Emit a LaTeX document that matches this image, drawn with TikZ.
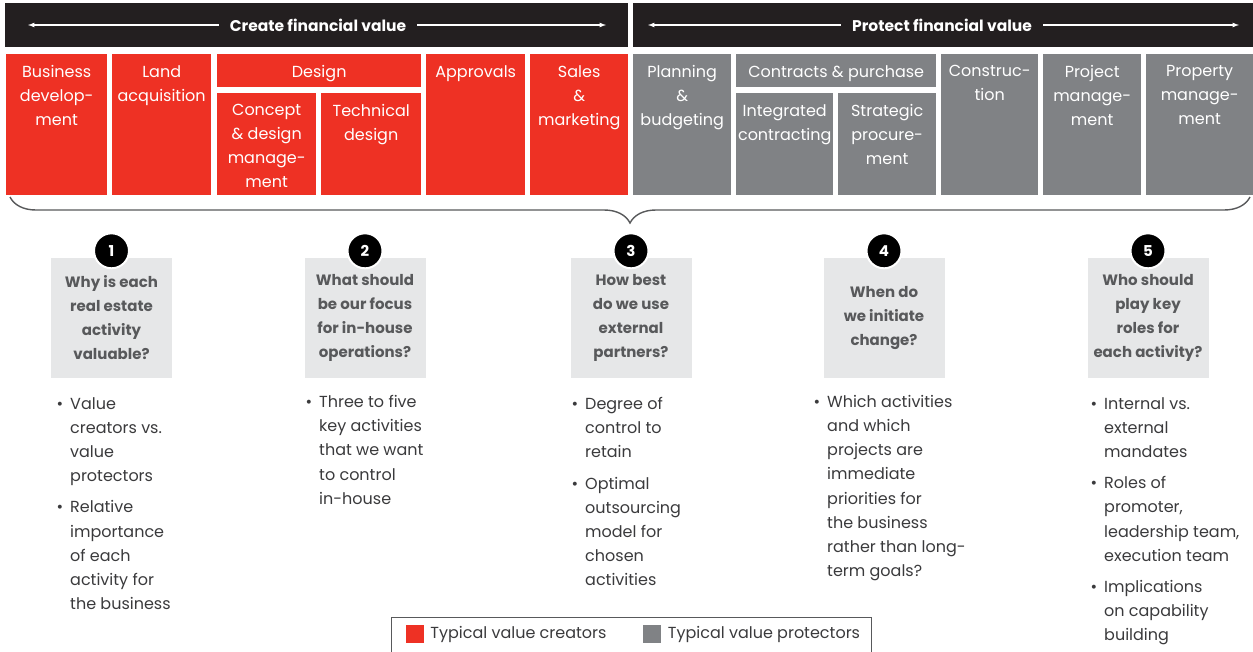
\documentclass[tikz,border=0pt]{standalone}
\usepackage{fontspec}
\setmainfont{Poppins}
\usetikzlibrary{decorations.pathreplacing}
\definecolor{creatred}{HTML}{EE3124}
\definecolor{protgray}{HTML}{808285}
\definecolor{barblack}{HTML}{231F20}
\definecolor{qboxgray}{HTML}{E6E7E8}
\definecolor{qtext}{HTML}{58595B}
\definecolor{btext}{HTML}{3A3A3C}
\newcommand{\qbul}{\llap{\textbullet\hspace{7pt}}}

\begin{document}
\begin{tikzpicture}[x=1pt, y=-1pt,
  bar/.style={fill=barblack, inner sep=0, anchor=north west},
  bartitle/.style={text=white, font=\bfseries\fontsize{15.5}{20}\selectfont, inner ysep=0, inner xsep=11pt},
  barrow/.style={white, line width=1.2pt, -latex},
  act/.style={inner sep=0, anchor=north west},
  acttext/.style={text=white, align=center, anchor=north, inner sep=0, font=\fontsize{16}{24}\selectfont},
  qbox/.style={fill=qboxgray, text=qtext, align=center, minimum width=121, minimum height=120, inner sep=0, font=\bfseries\fontsize{15}{24}\selectfont},
  num/.style={circle, fill=black, draw=white, line width=2pt, minimum size=35, inner sep=0, text=white, font=\bfseries\fontsize{15}{15}\selectfont},
  bullets/.style={text=btext, align=left, anchor=north west, inner sep=0, font=\fontsize{16}{24.2}\selectfont},
  lsq/.style={minimum size=18, inner sep=0},
  ltext/.style={text=btext, anchor=west, inner sep=0, font=\fontsize{16}{20}\selectfont}]
\useasboundingbox (0,0) rectangle (1253,651);

% top bars
\node[bar, minimum width=623, minimum height=44] (createbar) at (5,3) {};
\node[bar, minimum width=620, minimum height=44] (protectbar) at (633,3) {};
\node[bartitle] (create) at (318,25) {Create financial value};
\node[bartitle] (protect) at (942,25) {Protect financial value};
\coordinate (createL) at (28,25);
\coordinate (createR) at (606,25);
\coordinate (protectL) at (648,25);
\coordinate (protectR) at (1239,25);
\draw[barrow] (create.west) -- (createL);
\draw[barrow] (create.east) -- (createR);
\draw[barrow] (protect.west) -- (protectL);
\draw[barrow] (protect.east) -- (protectR);

% value creators
\node[act, fill=creatred, minimum width=101, minimum height=141] (bizdev) at (6,54) {};
\node[acttext] (bizdevtxt) at ([yshift=-11pt]bizdev.north) {Business\\develop-\\ment};
\node[act, fill=creatred, minimum width=99, minimum height=141] (landacq) at (112,54) {};
\node[acttext] (landacqtxt) at ([yshift=-11pt]landacq.north) {Land\\acquisition};
\node[act, fill=creatred, minimum width=204, minimum height=33] (design) at (217,54) {};
\node[acttext] (designtxt) at ([yshift=-11pt]design.north) {Design};
\node[act, fill=creatred, minimum width=99, minimum height=102] (concept) at (217,93) {};
\node[acttext] (concepttxt) at ([yshift=-11pt]concept.north) {Concept\\\& design\\manage-\\ment};
\node[act, fill=creatred, minimum width=100, minimum height=102] (techdes) at (321,93) {};
\node[acttext] (techdestxt) at ([yshift=-11pt]techdes.north) {Technical\\design};
\node[act, fill=creatred, minimum width=99, minimum height=141] (approv) at (426,54) {};
\node[acttext] (approvtxt) at ([yshift=-11pt]approv.north) {Approvals};
\node[act, fill=creatred, minimum width=98, minimum height=141] (sales) at (530,54) {};
\node[acttext] (salestxt) at ([yshift=-11pt]sales.north) {Sales\\\&\\marketing};

% value protectors
\node[act, fill=protgray, minimum width=98, minimum height=141] (planning) at (633,54) {};
\node[acttext] (planningtxt) at ([yshift=-11pt]planning.north) {Planning\\\&\\budgeting};
\node[act, fill=protgray, minimum width=200, minimum height=33] (contracts) at (736,54) {};
\node[acttext] (contractstxt) at ([yshift=-11pt]contracts.north) {Contracts \& purchase};
\node[act, fill=protgray, minimum width=97, minimum height=102] (integr) at (736,93) {};
\node[acttext] (integrtxt) at ([yshift=-11pt]integr.north) {Integrated\\contracting};
\node[act, fill=protgray, minimum width=98, minimum height=102] (strat) at (838,93) {};
\node[acttext] (strattxt) at ([yshift=-11pt]strat.north) {Strategic\\procure-\\ment};
\node[act, fill=protgray, minimum width=97, minimum height=141] (constr) at (941,54) {};
\node[acttext] (constrtxt) at ([yshift=-11pt]constr.north) {Construc-\\tion};
\node[act, fill=protgray, minimum width=98, minimum height=141] (projm) at (1043,54) {};
\node[acttext] (projmtxt) at ([yshift=-11pt]projm.north) {Project\\manage-\\ment};
\node[act, fill=protgray, minimum width=107, minimum height=141] (propm) at (1146,54) {};
\node[acttext] (propmtxt) at ([yshift=-11pt]propm.north) {Property\\manage-\\ment};

% brace
\draw[qtext, line width=1.4pt, decorate, decoration={brace, mirror, amplitude=26pt}] (10,197) -- (1250,197);

% questions
\node[qbox] (q1) at (111.5,318) {Why is each\\real estate\\activity\\valuable?};
\node[qbox] (q2) at (365,318) {What should\\be our focus\\for in-house\\operations?};
\node[qbox] (q3) at (631,318) {How best\\do we use\\external\\partners?};
\node[qbox] (q4) at (884,318) {When do\\we initiate\\change?};
\node[qbox] (q5) at (1148,318) {Who should\\play key\\roles for\\each activity?};
\node[num] (n1) at ([yshift=7pt]q1.north) {1};
\node[num] (n2) at ([yshift=7pt]q2.north) {2};
\node[num] (n3) at ([yshift=7pt]q3.north) {3};
\node[num] (n4) at ([yshift=7pt]q4.north) {4};
\node[num] (n5) at ([yshift=7pt]q5.north) {5};

% answers
\node[bullets] (a1) at (70,397) {\qbul Value\\creators vs.\\value\\protectors\\[7pt]\qbul Relative\\importance\\of each\\activity for\\the business};
\node[bullets] (a2) at (319,395) {\qbul Three to five\\key activities\\that we want\\to control\\in-house};
\node[bullets] (a3) at (585,397) {\qbul Degree of\\control to\\retain\\[7pt]\qbul Optimal\\outsourcing\\model for\\chosen\\activities};
\node[bullets] (a4) at (827,395) {\qbul Which activities\\and which\\projects are\\immediate\\priorities for\\the business\\rather than long-\\term goals?};
\node[bullets] (a5) at (1104,397) {\qbul Internal vs.\\external\\mandates\\[7pt]\qbul Roles of\\promoter,\\leadership team,\\execution team\\[7pt]\qbul Implications\\on capability\\building};

% legend
\node[draw=qtext, line width=0.8pt, minimum width=480, minimum height=42, inner sep=0, anchor=north west] (legend) at (391,617) {};
\node[lsq, fill=creatred] (lred) at (414.5,634) {};
\node[ltext] (lredtxt) at ([xshift=6.5pt]lred.east) {Typical value creators};
\node[lsq, fill=protgray] (lgray) at (652,634) {};
\node[ltext] (lgraytxt) at ([xshift=6.5pt]lgray.east) {Typical value protectors};
\end{tikzpicture}
\end{document}
